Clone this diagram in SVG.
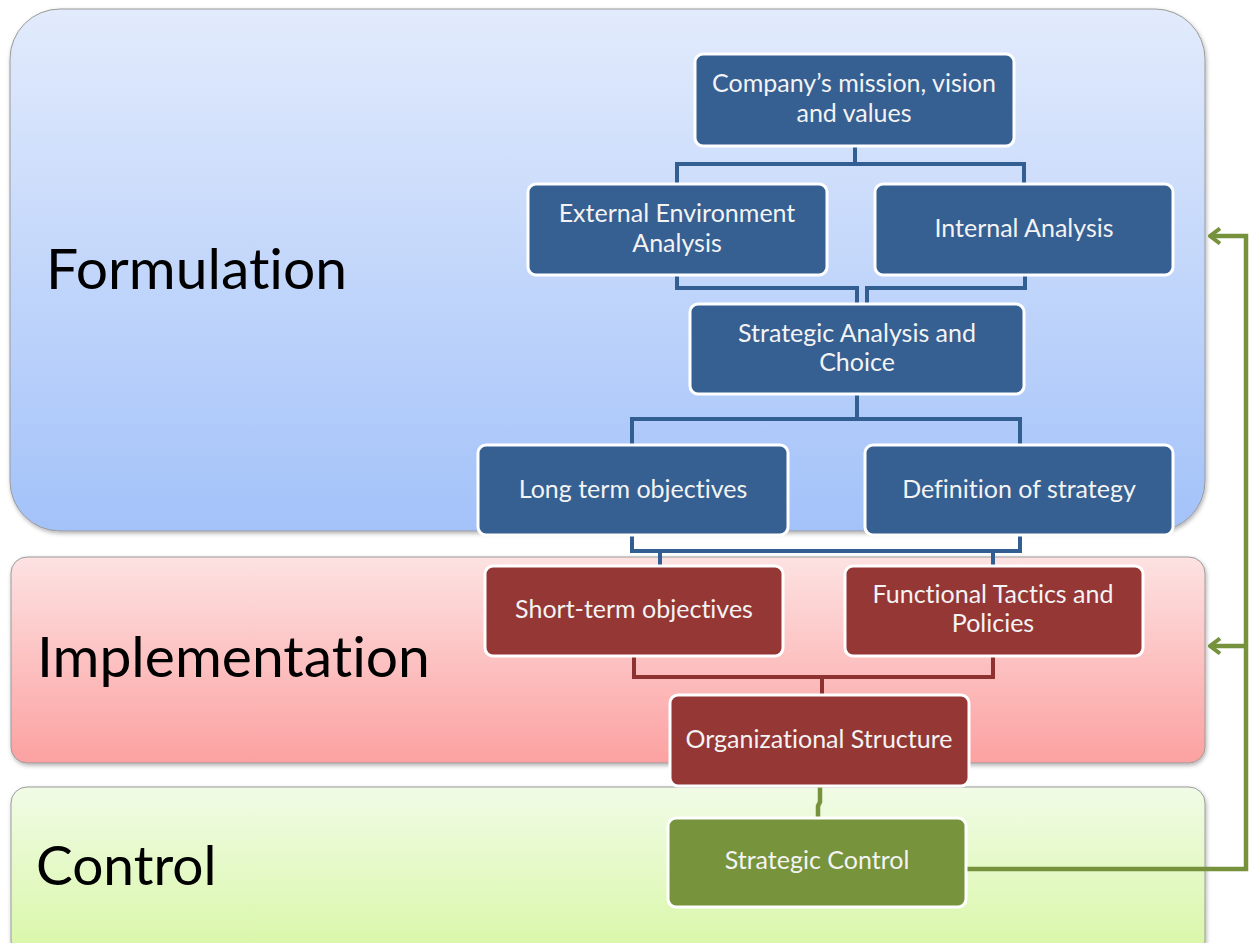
<svg xmlns="http://www.w3.org/2000/svg" width="1249" height="943" viewBox="0 0 1249 943">
<defs>
<linearGradient id="gB" x1="0" y1="0" x2="0" y2="1"><stop offset="0" stop-color="#e2ebfc"/><stop offset="1" stop-color="#a3c2f9"/></linearGradient>
<linearGradient id="gR" x1="0" y1="0" x2="0" y2="1"><stop offset="0" stop-color="#fde2e2"/><stop offset="1" stop-color="#fca1a1"/></linearGradient>
<linearGradient id="gG" x1="0" y1="0" x2="0" y2="1"><stop offset="0" stop-color="#f1fbe6"/><stop offset="1" stop-color="#d8f7a6"/></linearGradient>
<filter id="sh" x="-5%" y="-5%" width="110%" height="115%"><feDropShadow dx="1" dy="2" stdDeviation="2" flood-color="#000" flood-opacity="0.3"/></filter>
<marker id="ah" viewBox="0 0 14 18" refX="12" refY="9" markerWidth="14" markerHeight="18" markerUnits="userSpaceOnUse" orient="auto"><path d="M2,1.5 L12,9 L2,16.5" fill="none" stroke="#76923c" stroke-width="4"/></marker>
</defs>
<style>
.panel{stroke:#9a9a9a;stroke-width:1;filter:url(#sh)}
.lab{font-family:Lato,"Liberation Sans",sans-serif;font-size:57px;fill:#000;font-variant-ligatures:none}
.nb{fill:#365f92;stroke:#fff;stroke-width:3}
.nr{fill:#953735;stroke:#fff;stroke-width:3}
.ng{fill:#77933c;stroke:#fff;stroke-width:3}
.t{font-family:Lato,"Liberation Sans",sans-serif;font-size:25px;fill:#f3f3f3;text-anchor:middle;font-variant-ligatures:none}
.cb{fill:none;stroke:#335e91;stroke-width:4}
.cr{fill:none;stroke:#8e3131;stroke-width:4}
.cg{fill:none;stroke:#76923c;stroke-width:4.5}
</style>
<rect width="1249" height="943" fill="#fff"/>
<g id="panels">
<rect id="formulation" class="panel" x="10" y="9" width="1195" height="522" rx="50" fill="url(#gB)"/>
<rect id="implementation" class="panel" x="11" y="557" width="1194" height="206" rx="16" fill="url(#gR)"/>
<rect id="control" class="panel" x="11" y="787" width="1194" height="170" rx="16" fill="url(#gG)"/>
<text class="lab" x="46" y="289">Formulation</text>
<text class="lab" x="37" y="677" font-size="57.5">Implementation</text>
<text class="lab" x="36" y="885" style="font-size:55px">Control</text>
</g>
<g id="connectors">
<path class="cb" d="M855,146 V164 M677,184 V164 H1024 V184"/>
<path class="cb" d="M677,275 V288 H857 V304 M1025,275 V288 H867 V304"/>
<path class="cb" d="M857,394 V419 M632,445 V419 H1020 V445"/>
<path class="cb" d="M632,535 V551 H1020 V535 M660,551 V566 M993,551 V566"/>
<path class="cr" d="M634,656 V677 H993 V656"/>
<path class="cr" d="M822,677 V695" stroke-width="6"/>
<path class="cg" d="M820,786 V802 L818,806 V818"/>
<path class="cg" d="M966,869 H1246 V236 H1210" marker-end="url(#ah)"/>
<path class="cg" d="M1246,646 H1210" marker-end="url(#ah)"/>
</g>
<g id="n-mission"><rect class="nb" x="695" y="54" width="319" height="92" rx="8"/><text class="t" x="854" y="92">Company’s mission, vision</text><text class="t" x="854" y="122">and values</text></g>
<g id="n-external"><rect class="nb" x="528" y="184" width="299" height="91" rx="8"/><text class="t" x="677" y="222">External Environment</text><text class="t" x="677" y="252">Analysis</text></g>
<g id="n-internal"><rect class="nb" x="875" y="184" width="298" height="91" rx="8"/><text class="t" x="1024" y="237">Internal Analysis</text></g>
<g id="n-strategic"><rect class="nb" x="690" y="304" width="334" height="90" rx="8"/><text class="t" x="857" y="342">Strategic Analysis and</text><text class="t" x="857" y="371">Choice</text></g>
<g id="n-longterm"><rect class="nb" x="478" y="445" width="310" height="90" rx="8"/><text class="t" x="633" y="498">Long term objectives</text></g>
<g id="n-definition"><rect class="nb" x="865" y="445" width="308" height="90" rx="8"/><text class="t" x="1019" y="498">Definition of strategy</text></g>
<g id="n-shortterm"><rect class="nr" x="485" y="566" width="298" height="90" rx="8"/><text class="t" x="634" y="618">Short-term objectives</text></g>
<g id="n-functional"><rect class="nr" x="845" y="566" width="298" height="90" rx="8"/><text class="t" x="993" y="603">Functional Tactics and</text><text class="t" x="993" y="632">Policies</text></g>
<g id="n-org"><rect class="nr" x="670" y="695" width="299" height="91" rx="8"/><text class="t" x="819" y="748">Organizational Structure</text></g>
<g id="n-control"><rect class="ng" x="668" y="818" width="298" height="89" rx="8"/><text class="t" x="817" y="869">Strategic Control</text></g>
</svg>
